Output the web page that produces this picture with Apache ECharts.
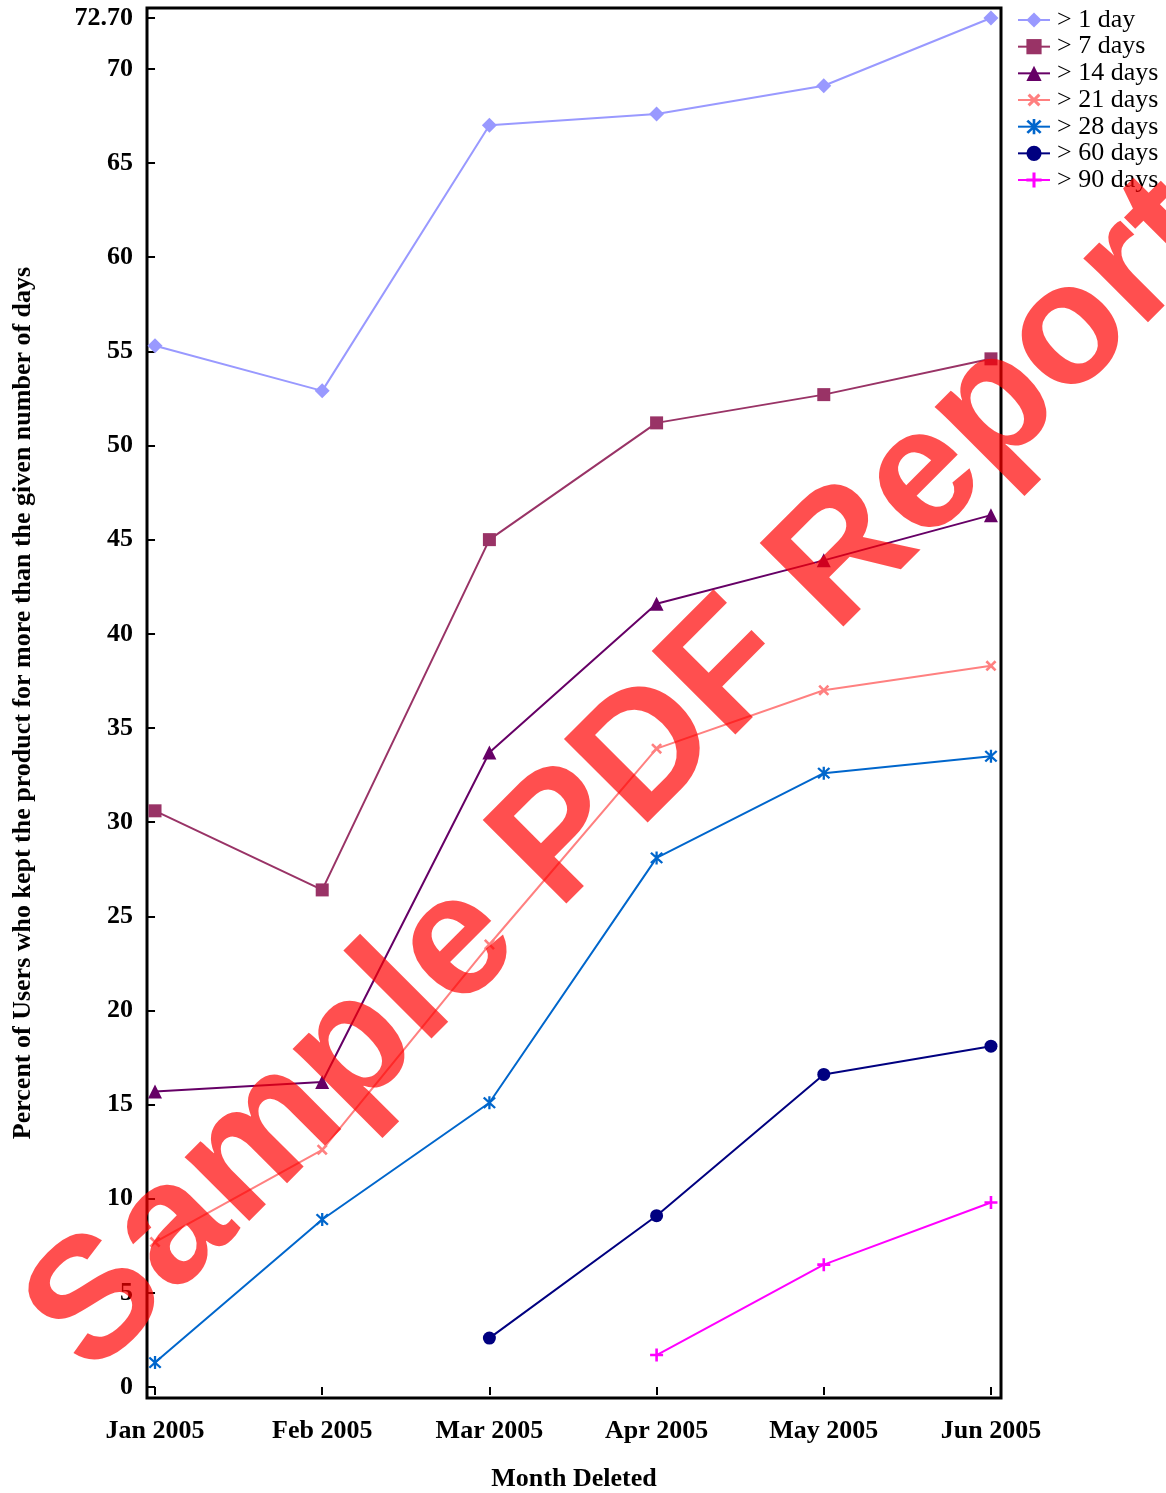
<!DOCTYPE html>
<html>
<head>
<meta charset="utf-8">
<script src="https://cdn.jsdelivr.net/npm/echarts@6/dist/echarts.min.js"></script>
<style>
  html, body { margin: 0; padding: 0; background: #fff; }
  #chart { width: 1166px; height: 1493px; }
</style>
</head>
<body>
<div id="chart"></div>
<script>
// ---- data ----
const months = ['Jan 2005', 'Feb 2005', 'Mar 2005', 'Apr 2005', 'May 2005', 'Jun 2005'];
const seriesNames = ['> 1 day', '> 7 days', '> 14 days', '> 21 days', '> 28 days', '> 60 days', '> 90 days'];
const day1  = [55.3, 52.9, 67.0, 67.6, 69.1, 72.7];
const day7  = [30.6, 26.4, 45.0, 51.2, 52.7, 54.6];
const day14 = [15.7, 16.2, 33.7, 41.6, 43.9, 46.3];
const day21 = [7.7, 12.6, 23.5, 33.9, 37.0, 38.3];
const day28 = [1.3, 8.9, 15.1, 28.1, 32.6, 33.5];
const day60 = [null, null, 2.6, 9.1, 16.6, 18.1];
const day90 = [null, null, null, 1.7, 6.5, 9.8];
const yTicks = [0, 5, 10, 15, 20, 25, 30, 35, 40, 45, 50, 55, 60, 65, 70, 72.7];

const colors = ['#9999FF', '#993366', '#660066', '#FF8080', '#0066CC', '#000080', '#FF00FF'];
const plusPath = 'path://M4,0 L6,0 L6,4 L10,4 L10,6 L6,6 L6,10 L4,10 L4,6 L0,6 L0,4 L4,4 Z';
const asteriskPath = 'path://M4.2,0 L5.8,0 L5.8,10 L4.2,10 Z M1.57,0.43 L9.57,8.43 L8.43,9.57 L0.43,1.57 Z M8.43,0.43 L9.57,1.57 L1.57,9.57 L0.43,8.43 Z';
const symbols = [
  { symbol: 'diamond', size: 15, rotate: 0 },
  { symbol: 'rect', size: 13, rotate: 0 },
  { symbol: 'triangle', size: 14, rotate: 0 },
  { symbol: plusPath, size: 13, rotate: 45 },
  { symbol: asteriskPath, size: 13, rotate: 0 },
  { symbol: 'circle', size: 13, rotate: 0 },
  { symbol: plusPath, size: 13, rotate: 0 }
];
const allValues = [day1, day7, day14, day21, day28, day60, day90];

const serifFont = '"Liberation Serif", "Times New Roman", serif';

function toPairs(arr) {
  const out = [];
  arr.forEach((v, i) => { if (v !== null) out.push([i, v]); });
  return out;
}

const series = allValues.map((vals, k) => ({
  name: seriesNames[k],
  type: 'line',
  data: toPairs(vals),
  symbol: symbols[k].symbol,
  symbolSize: symbols[k].size,
  symbolRotate: symbols[k].rotate,
  showAllSymbol: true,
  lineStyle: { color: colors[k], width: 2 },
  itemStyle: { color: colors[k], borderWidth: 0 },
  emphasis: { disabled: true },
  animation: false,
  z: 3
}));

const chart = echarts.init(document.getElementById('chart'), null, { renderer: 'canvas' });
chart.setOption({
  backgroundColor: '#fff',
  animation: false,
  color: colors,
  grid: {
    left: 147, right: 165, top: 8, bottom: 95,
    outerBoundsMode: 'none',
    containLabel: false,
    show: true, borderColor: '#000', borderWidth: 3, backgroundColor: 'transparent'
  },
  legend: {
    left: 1012, top: 2,
    orient: 'vertical',
    itemWidth: 32, itemHeight: 19, itemGap: 0.67,
    textStyle: { fontFamily: serifFont, fontSize: 26, color: '#000', lineHeight: 26, padding: [0, 0, 0, 2] },
    data: seriesNames
  },
  xAxis: {
    type: 'value',
    min: -0.048, max: 5.06,
    splitLine: { show: false },
    axisLine: { show: false },
    axisTick: { show: true, customValues: [0, 1, 2, 3, 4, 5], length: 8, lineStyle: { color: '#000', width: 2 } },
    axisLabel: {
      customValues: [0, 1, 2, 3, 4, 5],
      formatter: v => months[Math.round(v)],
      fontFamily: serifFont, fontSize: 26, fontWeight: 'bold', color: '#000', margin: 20
    },
    name: 'Month Deleted',
    nameLocation: 'middle',
    nameGap: 68,
    nameTextStyle: { fontFamily: serifFont, fontSize: 26, fontWeight: 'bold', color: '#000' }
  },
  yAxis: {
    type: 'value',
    min: -0.58, max: 73.23,
    splitLine: { show: false },
    axisLine: { show: false },
    axisTick: { show: true, customValues: yTicks, length: 8, lineStyle: { color: '#000', width: 2 } },
    axisLabel: {
      customValues: yTicks,
      formatter: v => (Math.abs(v - 72.7) < 1e-6 ? '72.70' : String(v)),
      fontFamily: serifFont, fontSize: 26, fontWeight: 'bold', color: '#000', margin: 14
    },
    name: 'Percent of Users who kept the product for more than the given number of days',
    nameLocation: 'middle',
    nameRotate: 90,
    nameGap: 111,
    nameTextStyle: { fontFamily: serifFont, fontSize: 26, fontWeight: 'bold', color: '#000' }
  },
  graphic: [{
    type: 'text',
    x: 626, y: 777,
    rotation: Math.PI / 4,
    z: 100,
    silent: true,
    style: {
      text: 'Sample PDF Report',
      fontFamily: '"Liberation Sans", Arial, sans-serif',
      fontWeight: 'bold',
      fontSize: 172,
      fill: 'rgba(255,0,0,0.69)',
      align: 'center',
      verticalAlign: 'middle'
    }
  }],
  series: series
});
</script>
</body>
</html>
